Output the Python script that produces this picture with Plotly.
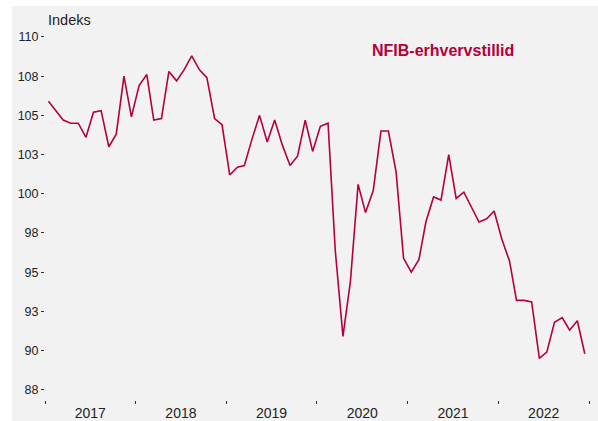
import plotly.graph_objects as go
import pandas as pd

# Monthly NFIB small business optimism index, Jan 2017 - Dec 2022
values = [
    105.9, 105.3, 104.7, 104.5, 104.5, 103.6, 105.2, 105.3, 103.0, 103.8, 107.5, 104.9,
    106.9, 107.6, 104.7, 104.8, 107.8, 107.2, 107.9, 108.8, 107.9, 107.4, 104.8, 104.4,
    101.2, 101.7, 101.8, 103.5, 105.0, 103.3, 104.7, 103.1, 101.8, 102.4, 104.7, 102.7,
    104.3, 104.5, 96.4, 90.9, 94.4, 100.6, 98.8, 100.2, 104.0, 104.0, 101.4, 95.9,
    95.0, 95.8, 98.2, 99.8, 99.6, 102.5, 99.7, 100.1, 99.1, 98.2, 98.4, 98.9,
    97.1, 95.7, 93.2, 93.2, 93.1, 89.5, 89.9, 91.8, 92.1, 91.3, 91.9, 89.8,
]
dates = pd.date_range("2017-01-01", periods=len(values), freq="MS") + pd.Timedelta(days=14)

y_tickvals = [87.5, 90, 92.5, 95, 97.5, 100, 102.5, 105, 107.5, 110]
y_ticktext = ["88", "90", "93", "95", "98", "100", "103", "105", "108", "110"]

series_name = "NFIB-erhvervstillid"
y_title = "Indeks"

W, H = 598, 421
L, R, T, B = 45, 9, 20, 21
red = "#b5003a"
font = "Liberation Sans, Arial, sans-serif"

fig = go.Figure()
fig.add_trace(go.Scatter(x=dates, y=values, mode="lines",
                         line=dict(color=red, width=1.6), name=series_name,
                         showlegend=False, hoverinfo="x+y"))

pw = W - L - R
ph = H - T - B
fig.update_layout(
    width=W, height=H,
    margin=dict(l=L, r=R, t=T, b=B, autoexpand=False),
    paper_bgcolor="white",
    plot_bgcolor="#f2f2f2",
    font=dict(family=font, color="#222222"),
    shapes=[dict(type="rect", xref="paper", yref="paper",
                 x0=(12 - L) / pw, x1=(W - L) / pw,
                 y0=-(B) / ph, y1=(H - 6 - B) / ph,
                 fillcolor="#f2f2f2", line=dict(width=0), layer="below")],
    xaxis=dict(
        range=["2017-01-01", "2023-01-01"],
        tick0="2017-01-01", dtick="M12",
        ticklabelmode="period", tickformat="%Y",
        ticks="outside", ticklen=3, tickwidth=1, tickcolor="#333333",
        ticklabelstandoff=-3,
        showgrid=False, zeroline=False, showline=False, automargin=False,
        tickfont=dict(size=14, color="#222222"),
    ),
    yaxis=dict(
        range=[86.85, 111.08],
        tickvals=y_tickvals, ticktext=y_ticktext,
        ticks="outside", ticklen=3, tickwidth=1, tickcolor="#333333",
        showgrid=False, zeroline=False, showline=False, automargin=False,
        tickfont=dict(size=12.5, color="#222222"),
    ),
    annotations=[
        dict(text=y_title, xref="paper", yref="paper",
             x=(46 - L) / pw, y=(H - 20 - B) / ph,
             xanchor="left", yanchor="middle", showarrow=False,
             font=dict(size=14.5, color="#222222", family=font)),
        dict(text="<b>" + series_name + "</b>", xref="paper", yref="paper",
             x=(443 - L) / pw, y=(H - 50 - B) / ph,
             xanchor="center", yanchor="middle", showarrow=False,
             font=dict(size=16, color=red, family=font)),
    ],
)

fig.write_html(
    "out.html",
    config={"displayModeBar": False},
    post_script="document.body.style.margin='0';document.body.style.padding='0';"
                "document.body.style.overflow='hidden';",
)
